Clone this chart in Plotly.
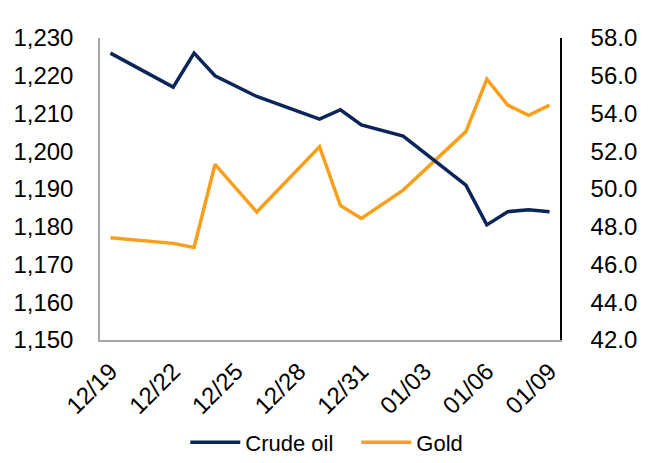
import plotly.graph_objects as go

dates = ["2014-12-19", "2014-12-22", "2014-12-23", "2014-12-24", "2014-12-26",
         "2014-12-29", "2014-12-30", "2014-12-31", "2015-01-02", "2015-01-05",
         "2015-01-06", "2015-01-07", "2015-01-08", "2015-01-09"]
crude_oil = [57.2, 55.4, 57.2, 56.0, 54.9, 53.7, 54.2, 53.4, 52.8, 50.2,
             48.1, 48.8, 48.9, 48.8]
gold = [1177.1, 1175.6, 1174.5, 1196.5, 1183.9, 1201.2, 1185.6, 1182.2,
        1189.7, 1205.2, 1219.1, 1212.2, 1209.5, 1212.2]

tick_dates = ["2014-12-19", "2014-12-22", "2014-12-25", "2014-12-28",
              "2014-12-31", "2015-01-03", "2015-01-06", "2015-01-09"]
tick_labels = ["12/19", "12/22", "12/25", "12/28", "12/31", "01/03", "01/06", "01/09"]

NAVY = "#0B2559"
ORANGE = "#F8A01C"
FONT = "Liberation Sans, Arial, sans-serif"

fig = go.Figure()
fig.add_trace(go.Scatter(x=dates, y=crude_oil, name="Crude oil", mode="lines",
                         line=dict(color=NAVY, width=3.5), yaxis="y2"))
fig.add_trace(go.Scatter(x=dates, y=gold, name="Gold", mode="lines",
                         line=dict(color=ORANGE, width=3.5), yaxis="y"))

# the page body adds an 8px offset, so the figure is drawn 8px smaller
fig.update_layout(
    width=645, height=455,
    margin=dict(l=92, r=93, t=30, b=123, autoexpand=False),
    paper_bgcolor="white", plot_bgcolor="white",
    font=dict(family=FONT, size=24, color="black"),
    showlegend=True,
    legend=dict(orientation="h", xref="container", x=0.54, xanchor="center",
                yref="container", y=0.045, yanchor="middle",
                font=dict(size=22), traceorder="normal", itemwidth=50,
                entrywidth=106, entrywidthmode="pixels"),
    xaxis=dict(type="date", range=["2014-12-18 12:00", "2015-01-09 12:00"],
               tickvals=tick_dates, ticktext=tick_labels, tickangle=-45,
               showgrid=False, zeroline=False, showline=True,
               linecolor="#A6A6A6", linewidth=1.5, ticks="",
               ticklabelstandoff=6, automargin=False),
    yaxis=dict(range=[1150, 1230], dtick=10, tickformat=",d",
               showgrid=False, zeroline=False, showline=True,
               linecolor="#A6A6A6", linewidth=1.5, ticks="",
               ticklabelstandoff=20, automargin=False),
    yaxis2=dict(range=[42, 58], dtick=2, tickformat=".1f", overlaying="y",
                side="right", showgrid=False, zeroline=False, showline=True,
                linecolor="#000000", linewidth=1.5, ticks="",
                ticklabelstandoff=24, automargin=False),
)

fig.write_html("out.html")
